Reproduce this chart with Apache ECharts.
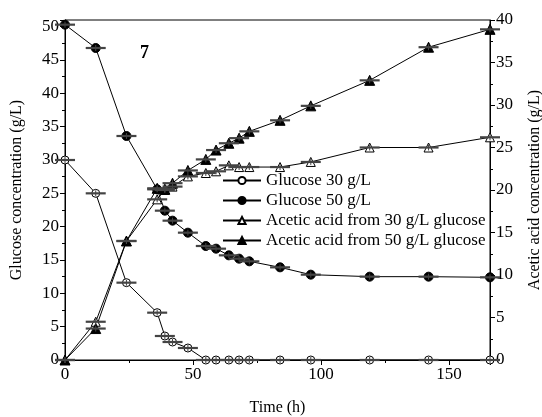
<!DOCTYPE html>
<html><head><meta charset="utf-8">
<script src="https://cdn.jsdelivr.net/npm/echarts@6/dist/echarts.min.js"></script>
<style>html,body{margin:0;padding:0;background:#fff}#c{width:542px;height:417px}</style>
</head><body><div id="c"></div>
<script>
const timeH = [0, 12, 24, 36, 39, 42, 48, 55, 59, 64, 68, 72, 84, 96, 119, 142, 166];
const glucose30 = [30, 25, 11.6, 7.1, 3.6, 2.7, 1.8, 0, 0, 0, 0, 0, 0, 0, 0, 0, 0];
const glucose50 = [50.3, 46.8, 33.6, 25.6, 22.4, 20.9, 19.1, 17.1, 16.7, 15.7, 15.2, 14.8, 13.9, 12.8, 12.5, 12.5, 12.4];
const acetic30 = [0, 4.5, 14.0, 18.9, 20.0, 20.4, 21.6, 22.0, 22.2, 22.9, 22.7, 22.7, 22.7, 23.3, 25.0, 25.0, 26.2];
const acetic50 = [0, 3.7, 14.0, 20.2, 20.1, 20.8, 22.3, 23.6, 24.7, 25.5, 26.1, 26.9, 28.2, 29.9, 32.9, 36.8, 38.9];
const seriesNames = ['Glucose 30 g/L', 'Glucose 50 g/L', 'Acetic acid from 30 g/L glucose', 'Acetic acid from 50 g/L glucose'];
const xTicks = {min: 0, max: 166, interval: 50};
const yLeftTicks = {min: 0, max: 51, interval: 5};
const yRightTicks = {min: 0, max: 40, interval: 5};

const FONT = 'Liberation Serif';
const pairs = arr => timeH.map((t, i) => [t, arr[i]]);

function errRender(params, api) {
  const p = api.coord([api.value(0), api.value(1)]);
  return {type: 'group', children: [
    {type: 'line', shape: {x1: p[0] - 10, y1: p[1], x2: p[0] + 10, y2: p[1]}, style: {stroke: '#444', lineWidth: 2.2}},
    {type: 'line', shape: {x1: p[0], y1: p[1] - 3, x2: p[0], y2: p[1] + 3}, style: {stroke: '#444', lineWidth: 1}}
  ]};
}

const lineBase = {type: 'line', lineStyle: {color: '#000', width: 1}, animation: false, z: 3};
const series = [
  Object.assign({}, lineBase, {name: seriesNames[0], yAxisIndex: 0, data: pairs(glucose30), symbol: 'circle', symbolSize: 8,
    itemStyle: {color: '#fff', borderColor: '#000', borderWidth: 1}}),
  Object.assign({}, lineBase, {name: seriesNames[1], yAxisIndex: 0, data: pairs(glucose50), symbol: 'circle', symbolSize: 9,
    itemStyle: {color: '#000', borderColor: '#000', borderWidth: 1}}),
  Object.assign({}, lineBase, {name: seriesNames[2], yAxisIndex: 1, data: pairs(acetic30), symbol: 'triangle', symbolSize: 9,
    itemStyle: {color: '#fff', borderColor: '#000', borderWidth: 1}}),
  Object.assign({}, lineBase, {name: seriesNames[3], yAxisIndex: 1, data: pairs(acetic50), symbol: 'triangle', symbolSize: 10,
    itemStyle: {color: '#000', borderColor: '#000', borderWidth: 1}}),
];
[[glucose30, 0], [glucose50, 0], [acetic30, 1], [acetic50, 1]].forEach(([arr, ax]) => {
  series.push({type: 'custom', yAxisIndex: ax, data: pairs(arr), renderItem: errRender, z: 4, silent: true, animation: false, clip: false});
});

const axisCommon = {
  axisLine: {show: true, lineStyle: {color: '#000', width: 1}},
  axisTick: {show: true, inside: false, length: 5, lineStyle: {color: '#000'}},
  minorTick: {show: true, splitNumber: 2, length: 3, lineStyle: {color: '#000'}},
  splitLine: {show: false},
  axisLabel: {color: '#000', fontFamily: FONT, fontSize: 17, margin: 6, showMaxLabel: false},
  nameTextStyle: {color: '#000', fontFamily: FONT, fontSize: 16},
  nameLocation: 'middle'
};

const chart = echarts.init(document.getElementById('c'), null, {renderer: 'canvas'});
chart.setOption({
  backgroundColor: '#fff',
  animation: false,
  grid: {left: 65, right: 52, top: 20, bottom: 57, show: true, borderColor: '#000', borderWidth: 1, backgroundColor: 'transparent',
    containLabel: false, outerBoundsMode: 'none'},
  legend: {
    data: seriesNames, orient: 'vertical', left: 222, top: 172, padding: 0, itemGap: 3, itemWidth: 38, itemHeight: 9,
    textStyle: {fontFamily: FONT, fontSize: 17, color: '#000'}
  },
  graphic: [{type: 'text', left: 140, top: 44, style: {text: '7', font: 'bold 18px "Liberation Serif"', fill: '#000'}}],
  xAxis: Object.assign({}, axisCommon, {type: 'value', name: 'Time (h)', nameGap: 40, min: xTicks.min, max: xTicks.max, interval: xTicks.interval}),
  yAxis: [
    Object.assign({}, axisCommon, {type: 'value', position: 'left', name: 'Glucose concentration (g/L)', nameGap: 40,
      min: yLeftTicks.min, max: yLeftTicks.max, interval: yLeftTicks.interval}),
    Object.assign({}, axisCommon, {type: 'value', position: 'right', name: 'Acetic acid concentration (g/L)', nameGap: 37,
      min: yRightTicks.min, max: yRightTicks.max, interval: yRightTicks.interval, axisLabel: Object.assign({}, axisCommon.axisLabel, {showMaxLabel: true})})
  ],
  series: series
});
</script></body></html>
